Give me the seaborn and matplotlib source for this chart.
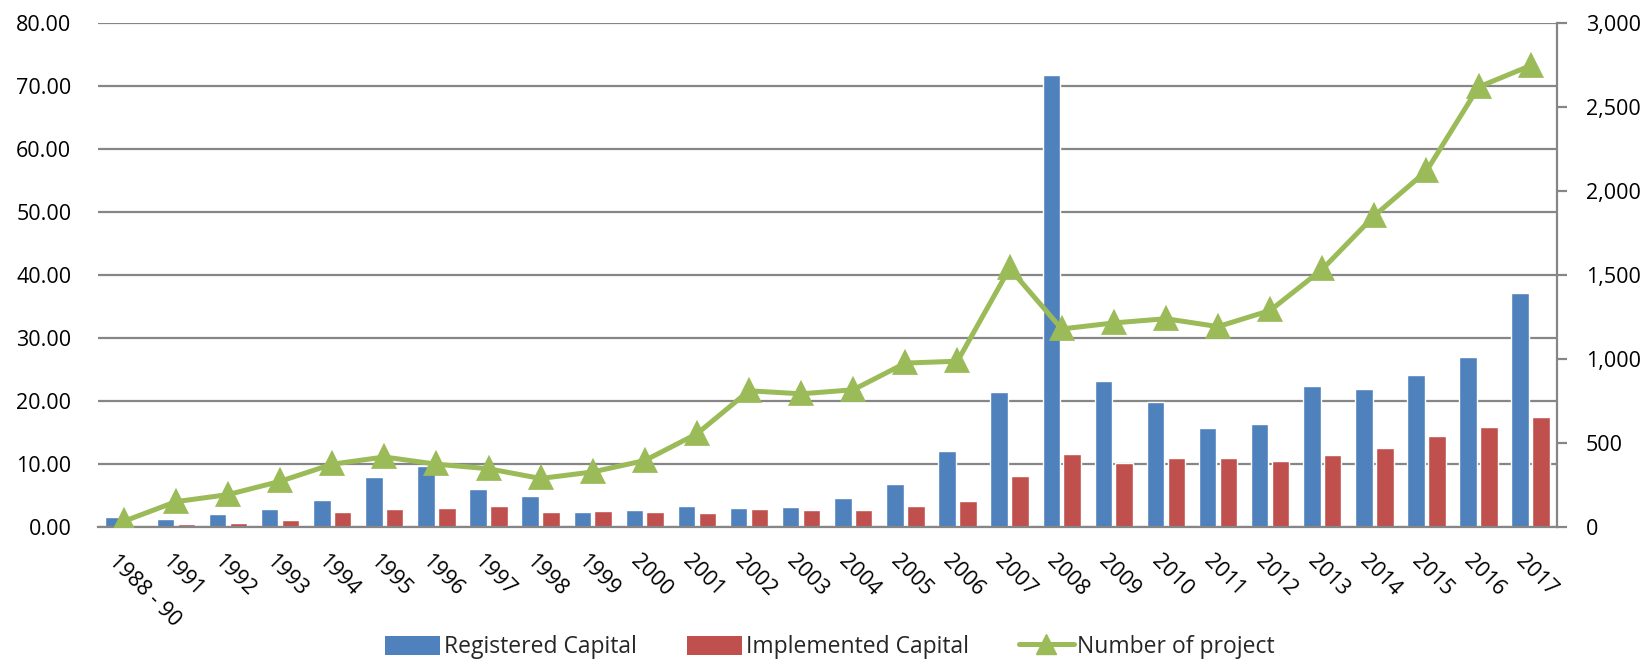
# Registered / implemented capital (bars, left axis) and number of projects (line, right axis)

import numpy as np
import pandas as pd
import matplotlib
matplotlib.use("Agg")
import matplotlib.pyplot as plt
import matplotlib.transforms as mtransforms
from matplotlib.ticker import FuncFormatter, MultipleLocator
from matplotlib.lines import Line2D
from matplotlib.patches import Patch
import seaborn as sns

# =========================
# DATA
# =========================

years = ["1988 - 90", "1991", "1992", "1993", "1994", "1995", "1996", "1997",
         "1998", "1999", "2000", "2001", "2002", "2003", "2004", "2005",
         "2006", "2007", "2008", "2009", "2010", "2011", "2012", "2013",
         "2014", "2015", "2016", "2017"]

registered = [1.59, 1.25, 2.04, 2.84, 4.26, 7.94, 9.65, 5.96, 4.94, 2.27,
              2.72, 3.23, 3.01, 3.12, 4.54, 6.81, 11.97, 21.33, 71.77, 23.09,
              19.86, 15.60, 16.28, 22.30, 21.84, 24.06, 26.89, 37.05]

implemented = [0.0, 0.45, 0.62, 1.13, 2.27, 2.84, 3.00, 3.29, 2.33, 2.44,
               2.27, 2.16, 2.84, 2.67, 2.67, 3.29, 4.03, 8.00, 11.52, 10.04,
               10.95, 10.95, 10.38, 11.46, 12.48, 14.41, 15.77, 17.42]

projects = [32, 149, 191, 270, 372, 415, 372, 345, 287, 326,
            394, 553, 809, 791, 815, 974, 985, 1538, 1177, 1213,
            1238, 1191, 1287, 1532, 1851, 2117, 2617, 2745]

series_names = ["Registered Capital", "Implemented Capital", "Number of project"]

BLUE = "#4F81BD"
RED = "#C0504D"
GREEN = "#9BBB59"
GRID = "#868686"

# long format table for the bars
bars_df = pd.DataFrame({
    "Year": years * 2,
    "Value": registered + implemented,
    "Series": [series_names[0]] * len(years) + [series_names[1]] * len(years),
})
line_df = pd.DataFrame({"Year": years, "Projects": projects})

# =========================
# STYLE
# =========================

sns.set_theme(style="white")
plt.rcParams["font.family"] = ["Open Sans", "DejaVu Sans"]
FS = 15.5

fig = plt.figure(figsize=(16.44, 6.63), dpi=100)
ax = fig.add_axes([97.7 / 1644, 1 - 526.7 / 663,
                   (1556.7 - 97.7) / 1644, (526.7 - 22.7) / 663])

# =========================
# BARS
# =========================

sns.barplot(
    data=bars_df, x="Year", y="Value", hue="Series",
    palette=[BLUE, RED], width=0.8, gap=0.16,
    order=years, hue_order=series_names[:2],
    errorbar=None, saturation=1, ax=ax, legend=False,
)

ax.set_ylim(0, 80)
ax.yaxis.set_major_locator(MultipleLocator(10))
ax.yaxis.set_major_formatter(FuncFormatter(lambda v, p: f"{v:.2f}"))
ax.grid(axis="y", color=GRID, linewidth=1.6)
ax.set_axisbelow(True)
ax.set_xlabel("")
ax.set_ylabel("")
for s in ["left", "top", "right"]:
    ax.spines[s].set_visible(False)
ax.spines["bottom"].set_color(GRID)
ax.spines["bottom"].set_linewidth(1.6)
ax.tick_params(axis="y", length=0, pad=19, labelsize=FS, labelcolor="black")
ax.tick_params(axis="x", length=0, pad=17, labelsize=FS, labelcolor="black")

ax.set_xticks(range(len(years)))
ax.set_xticklabels(years, rotation=-45, ha="left", va="top",
                   rotation_mode="anchor")
shift = mtransforms.ScaledTranslation(-4 / 100, 0, fig.dpi_scale_trans)
for lab in ax.get_xticklabels():
    lab.set_transform(lab.get_transform() + shift)

# =========================
# LINE (secondary axis)
# =========================

ax2 = ax.twinx()
sns.pointplot(
    data=line_df, x="Year", y="Projects", order=years,
    color=GREEN, markers="^", markersize=14, linewidth=3.6,
    errorbar=None, ax=ax2,
)
ax2.set_ylim(0, 3000)
ax2.set_xlim(ax.get_xlim())
ax2.yaxis.set_major_locator(MultipleLocator(500))
ax2.yaxis.set_major_formatter(FuncFormatter(lambda v, p: f"{int(v):,}"))
ax2.set_ylabel("")
ax2.set_xlabel("")
for s in ["left", "top", "bottom"]:
    ax2.spines[s].set_visible(False)
ax2.spines["right"].set_color(GRID)
ax2.spines["right"].set_linewidth(1.6)
ax2.tick_params(axis="y", direction="out", length=7, width=1.6, color=GRID,
                pad=14, labelsize=FS, labelcolor="black")
ax2.grid(False)

# =========================
# LEGEND
# =========================

handles = [
    Patch(facecolor=BLUE, edgecolor="none"),
    Patch(facecolor=RED, edgecolor="none"),
    Line2D([0], [0], color=GREEN, linewidth=3.6, marker="^", markersize=14),
]
fig.legend(handles, series_names, loc="center", ncol=3,
           bbox_to_anchor=(0.505, 1 - 647 / 663), frameon=False,
           fontsize=16.5, handlelength=2.4, handleheight=0.9,
           handletextpad=0.15, columnspacing=2.2)

fig.savefig("out.png", dpi=100)
